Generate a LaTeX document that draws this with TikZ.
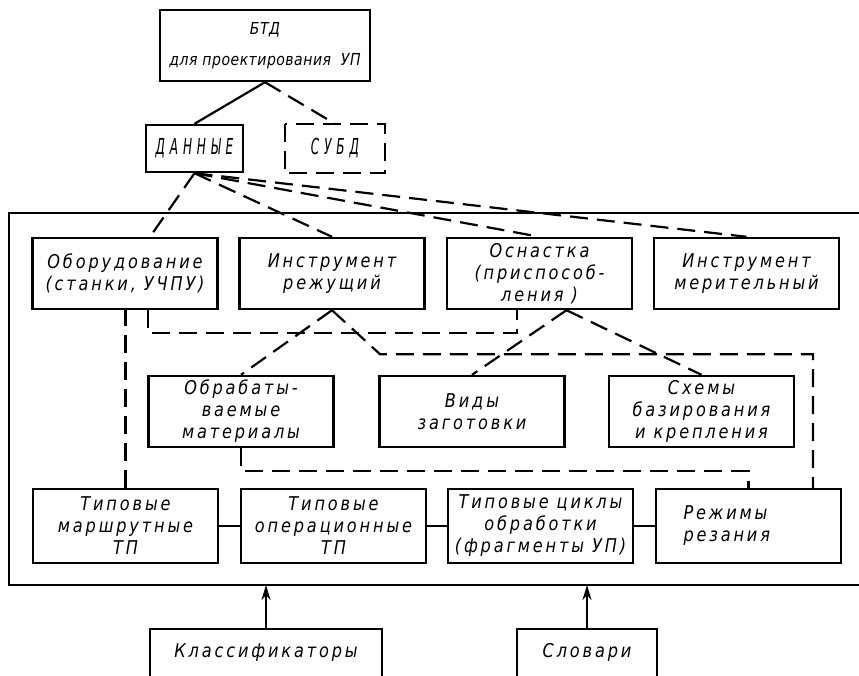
\documentclass[tikz,border=0pt]{standalone}
\usepackage{fontspec}
\newfontfamily\gost[FakeStretch=0.85,LetterSpace=15]{DejaVu Sans}
\newfontfamily\gostb[FakeStretch=0.85,LetterSpace=3]{DejaVu Sans}
\newfontfamily\gostr[FakeStretch=0.55,LetterSpace=22]{DejaVu Sans}
\usepackage{tikz}
\usetikzlibrary{calc}
\usetikzlibrary{arrows.meta}
\tikzset{
  blok/.style={draw, line width=2.4pt, minimum width=185pt, minimum height=71pt,
    inner sep=0pt, align=center, font=\gost\itshape\fontsize{19}{22}\selectfont},
  shtrih/.style={line width=2.2pt, dash pattern=on 18pt off 9pt},
  liniya/.style={line width=2.2pt},
}

\begin{document}
\begin{tikzpicture}[x=1pt, y=-1pt]
        \clip (0,0) rectangle (859,675);
        % top
        \node[blok, minimum width=210pt, font=\gostb\itshape\fontsize{16.5}{31}\selectfont] (btd) at (265,45.5) {БТД\\для проектирования\ \ УП};
        \node[blok, minimum width=97pt, minimum height=47pt, font=\gostr\itshape\fontsize{22}{24}\selectfont] (dannye) at (194.5,148.5) {ДАННЫЕ};
        \node[blok, draw=none, minimum width=98pt, minimum height=47pt, font=\gostr\itshape\fontsize{22}{24}\selectfont] (subd) at (335,148.5) {СУБД};
        \draw[shtrih, line width=2.4pt] (subd.north west) rectangle (subd.south east);
        \draw[liniya] (btd.south) -- (dannye.north);
        \draw[shtrih] (btd.south) -- (subd.north);
        % frame
        \draw[line width=2.2pt] (880,213) -- (9,213) -- (9,585) -- (880,585);
        % row 1
        \node[blok] (obor) at (125,273.5) {Оборудование\\(станки, УЧПУ)};
        \node[blok] (instr) at (332,273.5) {Инструмент\\режущий};
        \node[blok] (osn) at (539.5,273.5) {Оснастка\\(приспособ-\\ления )};
        \node[blok] (mer) at (746.5,273.5) {Инструмент\\мерительный};
        % row 2
        \node[blok] (obrab) at (241,411.5) {Обрабаты-\\ваемые\\материалы};
        \node[blok] (vidy) at (472,411.5) {Виды\\заготовки};
        \node[blok] (shemy) at (701.5,411.5) {Схемы\\базирования\\и крепления};
        % row 3
        \node[blok, minimum height=74pt] (marsh) at (125.5,526) {Типовые\\маршрутные\\ТП};
        \node[blok, minimum height=74pt] (oper) at (333.5,526) {Типовые\\операционные\\ТП};
        \node[blok, minimum height=74pt] (cikly) at (540.5,526) {Типовые циклы\\обработки\\(фрагменты УП)};
        \node[blok, minimum height=74pt, text width=130pt, align=left] (rezh) at (748.5,526) {Режимы\\резания};
        % bottom
        \node[blok, anchor=north, minimum width=232pt, minimum height=0pt, text height=28pt, text depth=45pt] (klass) at (266,628) {Классификаторы};
        \node[blok, anchor=north, minimum width=140pt, minimum height=0pt, text height=28pt, text depth=45pt] (slov) at (587,628) {Словари};
        \coordinate (niz) at (0,585);
        % links
        \draw[shtrih] (dannye.south) -- ($(obor.north)+(25,0)$);
        \draw[shtrih] (dannye.south) -- (instr.north);
        \draw[shtrih] (dannye.south) -- (osn.north);
        \draw[shtrih] (dannye.south) -- (mer.north);
        \draw[shtrih] ($(obor.south)+(23,0)$) -- ++(0,23) -| ($(osn.south)+(-22.5,0)$);
        \draw[shtrih] (marsh.north) -- (marsh.north |- obor.south);
        \draw[shtrih] (instr.south) -- (obrab.north);
        \draw[shtrih] (instr.south) -- ++(48,44) -| ($(rezh.north)+(64.5,0)$);
        \coordinate (osnv) at ($(osn.south)+(27,0)$);
        \draw[shtrih] (osnv) -- (vidy.north);
        \draw[shtrih] (osnv) -- (shemy.north);
        \draw[shtrih] (obrab.south) -- ++(0,23) -| (rezh.north);
        \draw[liniya] (marsh) -- (oper);
        \draw[liniya] (oper) -- (cikly);
        \draw[liniya] (cikly) -- (rezh);
        \draw[liniya, -{Stealth[length=15pt, width=9pt]}] (klass.north) -- (klass.north |- niz);
        \draw[liniya, -{Stealth[length=15pt, width=9pt]}] (slov.north) -- (slov.north |- niz);
    \end{tikzpicture}
\end{document}
